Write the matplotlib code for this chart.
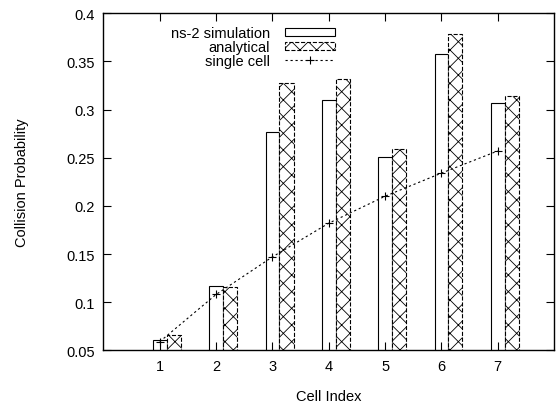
import matplotlib
matplotlib.use('Agg')
import matplotlib.pyplot as plt
from matplotlib.ticker import FuncFormatter

plt.rcParams['font.family'] = ['Liberation Sans', 'DejaVu Sans']
plt.rcParams['hatch.linewidth'] = 0.6

# data
cells = [1, 2, 3, 4, 5, 6, 7]
ns2_sim = [0.061, 0.1165, 0.277, 0.310, 0.251, 0.358, 0.307]
analytical = [0.066, 0.116, 0.328, 0.332, 0.259, 0.379, 0.314]
single_cell = [0.059, 0.108, 0.147, 0.182, 0.210, 0.234, 0.257]
y_ticks = [0.05, 0.1, 0.15, 0.2, 0.25, 0.3, 0.35, 0.4]

fs = 10.5
fig = plt.figure(figsize=(5.57, 4.06), dpi=100)
ax = fig.add_axes([0.1858, 0.1347, 0.8088, 0.8301])

b1 = ax.bar([c - 0.12 for c in cells], ns2_sim, width=0.245, align='edge',
            facecolor='white', edgecolor='black', linewidth=0.8,
            label='ns-2 simulation')
b2 = ax.bar([c + 0.125 for c in cells], analytical, width=0.25, align='edge',
            facecolor='white', edgecolor='black', linewidth=0.8, linestyle='--',
            hatch='xx', label='analytical')
l1, = ax.plot(cells, single_cell, color='black', linestyle=(0, (2, 2.5)),
              linewidth=0.8, marker='+', markersize=6, markeredgewidth=0.8,
              label='single cell')

ax.set_xlim(0, 8)
ax.set_ylim(0.05, 0.4)
ax.set_xticks(cells)
ax.set_yticks(y_ticks)
ax.yaxis.set_major_formatter(FuncFormatter(lambda v, p: '%g' % round(v, 2)))
ax.tick_params(direction='in', length=5.5, width=0.8, top=True, right=True,
               labelsize=fs, pad=6, colors='black')
for s in ax.spines.values():
    s.set_linewidth(1.0)

ax.set_xlabel('Cell Index', fontsize=fs, labelpad=12)
ax.set_ylabel('Collision Probability', fontsize=fs, labelpad=27)

leg = ax.legend([b1, b2, l1], ['ns-2 simulation', 'analytical', 'single cell'],
                loc='upper right', bbox_to_anchor=(335 / 557, 1 - 27 / 406),
                bbox_transform=fig.transFigure, frameon=False, markerfirst=False,
                fontsize=fs, borderpad=0, borderaxespad=0, handlelength=3.45,
                handleheight=0.5, handletextpad=1.0, labelspacing=0.0)

fig.savefig('out.png', dpi=100)
